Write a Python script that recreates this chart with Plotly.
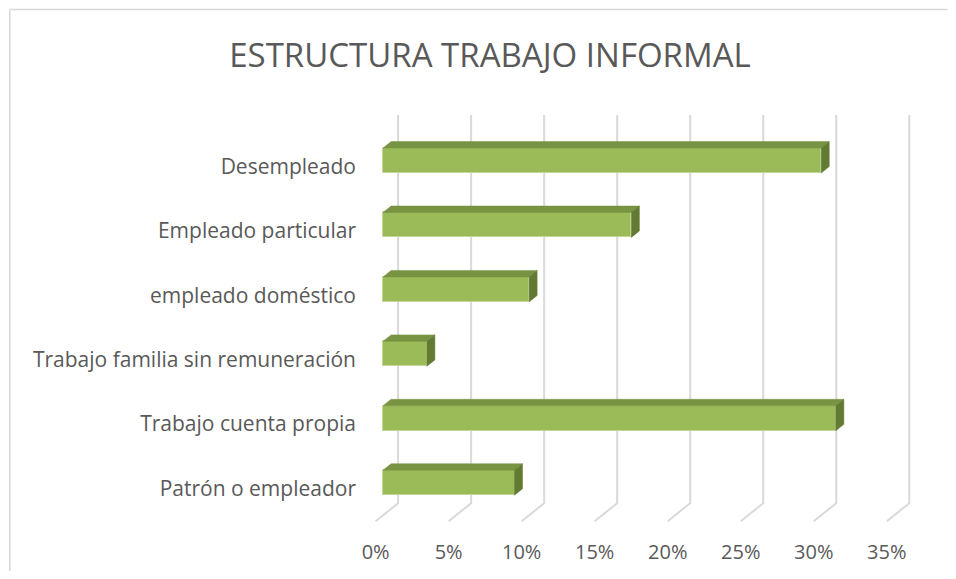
import plotly.graph_objects as go

# ---- data ----
categories = ["Patrón o empleador", "Trabajo cuenta propia", "Trabajo familia sin remuneración",
              "empleado doméstico", "Empleado particular", "Desempleado"]
values = [9, 31, 3, 10, 17, 30]
x_ticks = [0, 5, 10, 15, 20, 25, 30, 35]
x_tick_labels = ["0%", "5%", "10%", "15%", "20%", "25%", "30%", "35%"]
title_text = "ESTRUCTURA TRABAJO INFORMAL"

# ---- style / geometry (page has an 8px body margin) ----
W, H = 940, 563
X0, X1 = -1.0, 37.0
Y0, Y1 = -0.75, 5.8
ML, MR, MT, MB = 353, 31.6, 101, 40.2
GRID = "#d9d9d9"
FRONT = "#9bbb59"
TOP = "#789342"
SIDE = "#637a33"
TXT = "#595959"

base = 0.51          # bar plane offset (x)
half_h = 0.194       # half bar height
ddx, ddy = 0.55, 0.10   # bar depth offset
gdx = 1.54           # floor depth (x)
y_back_bottom = -0.318
y_front_floor = -0.598
y_top = 5.707

fig = go.Figure()

# top & side faces of the 3D bars
for i, v in enumerate(values):
    yb, yt = i - half_h, i + half_h
    xe = base + v
    fig.add_trace(go.Scatter(
        x=[base, xe, xe + ddx, base + ddx, base],
        y=[yt, yt, yt + ddy, yt + ddy, yt],
        fill="toself", fillcolor=TOP, mode="lines", line=dict(color=TOP, width=0.5),
        hoverinfo="skip", showlegend=False))
    fig.add_trace(go.Scatter(
        x=[xe, xe + ddx, xe + ddx, xe, xe],
        y=[yb, yb + ddy, yt + ddy, yt, yb],
        fill="toself", fillcolor=SIDE, mode="lines", line=dict(color=SIDE, width=0.5),
        hoverinfo="skip", showlegend=False))

# front faces
fig.add_trace(go.Bar(
    y=list(range(len(categories))), x=values, base=base, orientation="h",
    width=2 * half_h, marker=dict(color=FRONT, line=dict(color="#c2d69a", width=1)),
    hoverinfo="skip", showlegend=False))

# back gridlines + floor lines (below the traces)
path = ""
for v in x_ticks:
    path += f"M{v},{y_front_floor} L{v + gdx},{y_back_bottom} L{v + gdx},{y_top} "
fig.add_shape(type="path", path=path, xref="x", yref="y",
              line=dict(color=GRID, width=2), layer="below")

# chart border (only top & left edges are inside the window)
pw = W - ML - MR
ph = H - MT - MB
def px_x(p):
    return (p - ML) / pw
def px_y(p):
    return (H - MB - p) / ph
fig.add_shape(type="line", xref="paper", yref="paper",
              x0=px_x(1.5), x1=px_x(W), y0=px_y(1.5), y1=px_y(1.5),
              line=dict(color=GRID, width=1.6), layer="below")
fig.add_shape(type="line", xref="paper", yref="paper",
              x0=px_x(1.5), x1=px_x(1.5), y0=px_y(1.5), y1=px_y(H),
              line=dict(color=GRID, width=1.6), layer="below")

fig.update_layout(
    width=W, height=H,
    margin=dict(l=ML, r=MR, t=MT, b=MB, autoexpand=False),
    paper_bgcolor="white", plot_bgcolor="white",
    title=dict(text=title_text, x=482 / W, xref="container", xanchor="center",
               y=1 - 47 / H, yref="container", yanchor="middle",
               font=dict(family="Open Sans", size=33, color=TXT)),
    xaxis=dict(range=[X0, X1], tickvals=x_ticks, ticktext=x_tick_labels,
               showgrid=False, zeroline=False, showline=False, ticks="",
               ticklabelstandoff=7, automargin=False,
               tickfont=dict(family="Open Sans", size=20, color=TXT), fixedrange=True),
    yaxis=dict(range=[Y0, Y1], tickvals=[i - 0.09 for i in range(len(categories))],
               ticktext=categories, showgrid=False, zeroline=False, showline=False,
               ticks="", ticklabelstandoff=4, automargin=False,
               tickfont=dict(family="Open Sans", size=21, color=TXT),
               fixedrange=True),
    bargap=0,
)

fig.write_html("out.html")
